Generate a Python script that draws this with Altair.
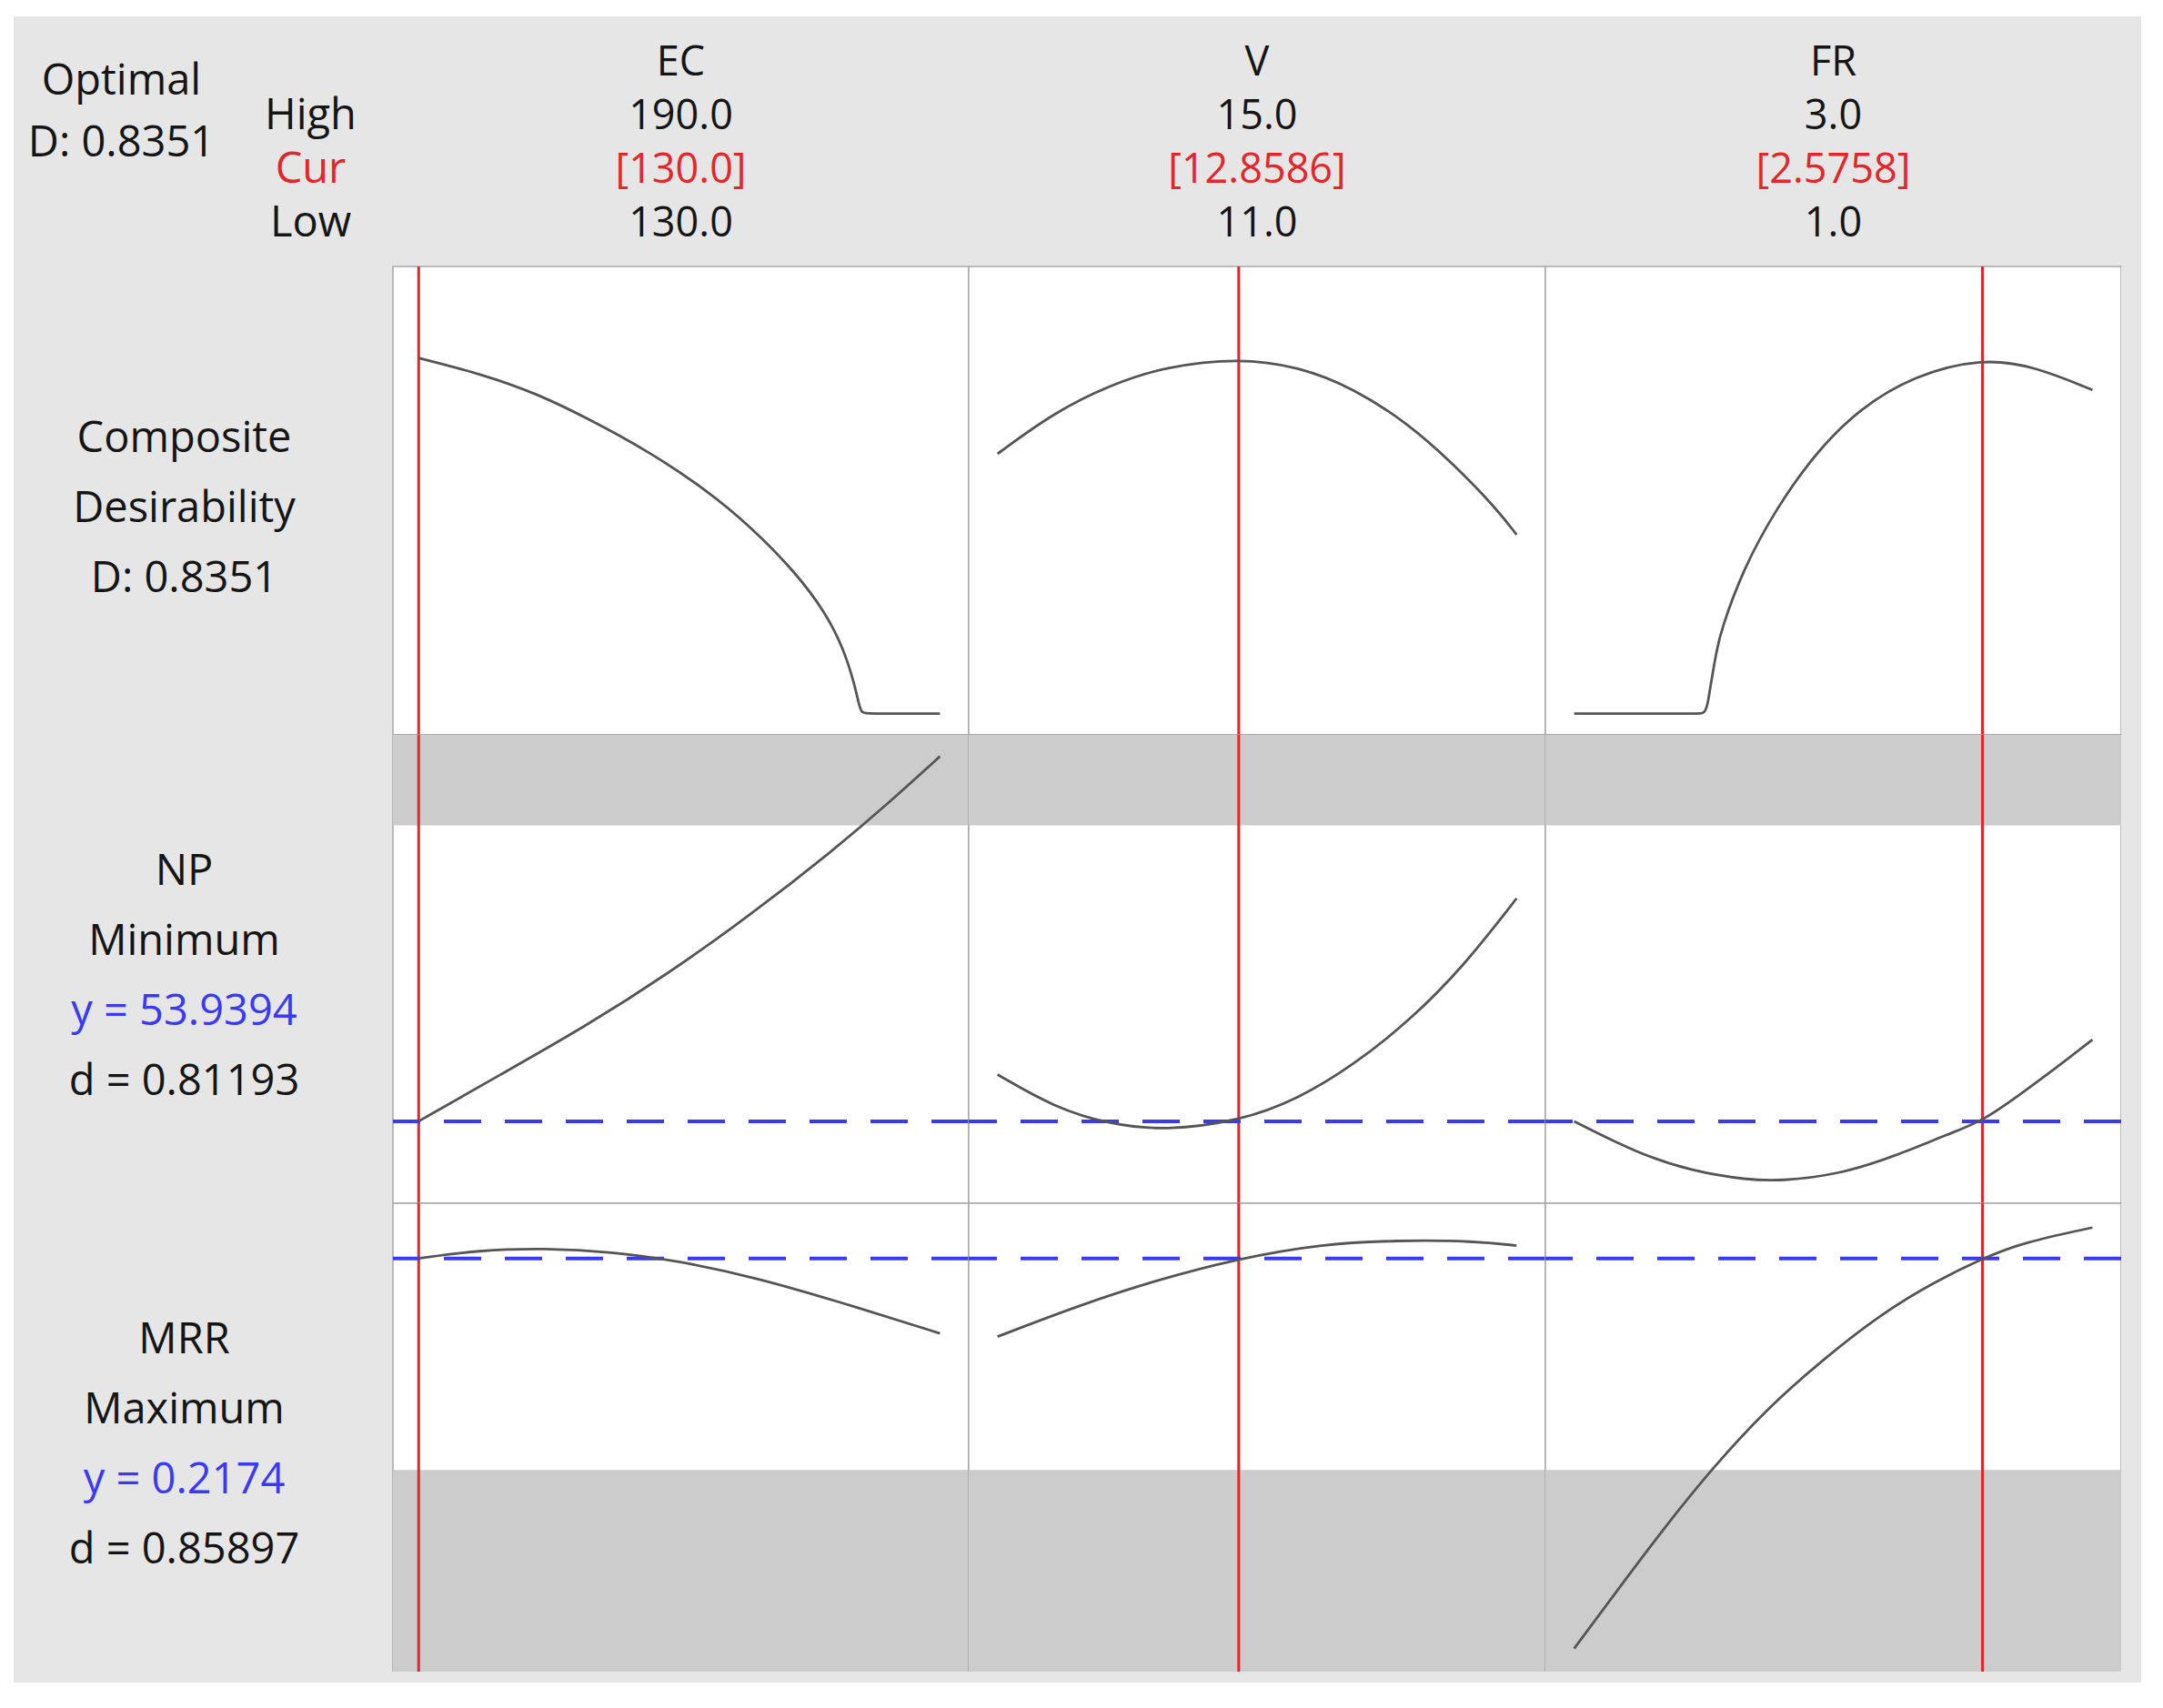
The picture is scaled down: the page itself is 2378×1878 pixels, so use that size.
import altair as alt
import pandas as pd

# ---------------- data ----------------
FACTORS = ["EC", "V", "FR"]
HIGH_TXT = ["190.0", "15.0", "3.0"]
CUR_TXT = ["[130.0]", "[12.8586]", "[2.5758]"]
LOW_TXT = ["130.0", "11.0", "1.0"]
CUR_V = [130.0, 12.8586, 2.5758]
X_DOMAINS = [[127.04, 193.31], [10.778, 15.222], [0.889, 3.111]]

OPTIMAL_LINES = ["Optimal", "D: 0.8351"]
SETTING_LINES = ["High", "Cur", "Low"]
SETTING_KIND = ["k", "r", "k"]

ROW_LABELS = [
    ["Composite", "Desirability", "D: 0.8351"],
    ["NP", "Minimum", "y = 53.9394", "d = 0.81193"],
    ["MRR", "Maximum", "y = 0.2174", "d = 0.85897"],
]
ROW_KIND = [["k", "k", "k"], ["k", "k", "b", "k"], ["k", "k", "b", "k"]]

NP_Y = 53.9394
MRR_Y = 0.2174
NP_UPPER = 75.0
MRR_LOWER = 0.12
ROW_DOMAINS = [[-0.05, 1.05], [48.11, 81.43], [0.0272, 0.2428]]

# composite desirability
EC_X_D = [130.0, 137.3, 143.7, 150.06, 156.43, 162.8, 168.3, 173.4, 176.8, 178.9, 180.2, 180.7, 181.0, 181.3, 185.0, 190.0]
EC_D = [0.835, 0.797, 0.751, 0.687, 0.616, 0.530, 0.438, 0.331, 0.238, 0.153, 0.067, 0.018, 0.003, 0.0, 0.0, 0.0]
V_X_D = [11.0, 11.44, 11.87, 12.29, 12.86, 13.32, 13.74, 14.17, 14.51, 14.85, 15.0]
V_D = [0.61, 0.708, 0.772, 0.815, 0.835, 0.815, 0.765, 0.680, 0.587, 0.480, 0.42]
FR_X_D = [1.0, 1.25, 1.48, 1.502, 1.515, 1.523, 1.55, 1.567, 1.651, 1.778, 1.927, 2.098, 2.311, 2.576, 2.78, 3.0]
FR_D = [0.0, 0.0, 0.0, 0.0, 0.02, 0.053, 0.15, 0.195, 0.338, 0.480, 0.609, 0.715, 0.794, 0.835, 0.815, 0.76]

# NP
EC_X_NP = [130.0, 139.44, 149.02, 158.6, 168.17, 177.75, 184.1, 190.0]
EC_NP = [53.94, 57.27, 60.62, 64.39, 68.6, 73.23, 76.58, 79.9]
V_X_NP = [11.0, 11.44, 11.87, 12.29, 12.86, 13.32, 13.74, 14.17, 14.59, 15.0]
V_NP = [57.27, 54.91, 53.71, 53.28, 53.94, 55.54, 57.92, 61.05, 64.93, 69.8]
FR_X_NP = [1.0, 1.243, 1.456, 1.669, 1.796, 2.023, 2.236, 2.448, 2.576, 2.731, 2.873, 3.0]
FR_NP = [53.94, 51.67, 50.38, 49.77, 49.68, 50.16, 51.44, 53.07, 53.94, 55.98, 57.92, 59.75]

# MRR
EC_X_MRR = [130.0, 136.9, 144.5, 152.2, 159.9, 168.8, 177.8, 190.0]
EC_MRR = [0.2174, 0.2212, 0.2221, 0.2205, 0.2163, 0.2086, 0.1982, 0.1829]
V_X_MRR = [11.0, 11.61, 12.21, 12.86, 13.49, 14.08, 14.68, 15.0]
V_MRR = [0.1814, 0.1954, 0.2072, 0.2174, 0.2240, 0.2258, 0.2254, 0.2233]
FR_X_MRR = [1.0, 1.172, 1.342, 1.527, 1.74, 1.966, 2.193, 2.391, 2.576, 2.731, 3.0]
FR_MRR = [0.0378, 0.0655, 0.0925, 0.1200, 0.1479, 0.1715, 0.1925, 0.2066, 0.2174, 0.2247, 0.2316]

CURVES = [
    [(EC_X_D, EC_D), (V_X_D, V_D), (FR_X_D, FR_D)],
    [(EC_X_NP, EC_NP), (V_X_NP, V_NP), (FR_X_NP, FR_NP)],
    [(EC_X_MRR, EC_MRR), (V_X_MRR, V_MRR), (FR_X_MRR, FR_MRR)],
]

# ---------------- style ----------------
FONT = "Open Sans"
FS = 47
FS_HEAD = 45
GRAY_BG = "#E6E6E6"
BAND = "#CCCCCC"
RED = "#E3262B"
BLUE = "#3A3AF2"
CURVE = "#555555"
BORDER = "#A8A8A8"

COL_W = [633, 634, 633]
LABEL_W = 417
HEADER_H = 275
ROW_H = 515
RIGHT_W = 22
BOTTOM_H = 12
LINE_STEP = 77.0
HEAD_STEP = 58.7

GRAY_VIEW = alt.ViewBackground(fill=GRAY_BG, stroke="transparent", strokeWidth=0)
PLOT_VIEW = alt.ViewBackground(fill="white", stroke=BORDER, strokeWidth=1.5)
TEXT_COLOR = alt.Scale(domain=["k", "r", "b"], range=["#151515", RED, BLUE])


def text_layer(lines, kinds, height, step, first=0, n_slots=None, dy=0, dx=0, fs=FS):
    n = len(lines) if n_slots is None else n_slots
    pad = (height / step - (n - 1)) / 2.0
    df = pd.DataFrame({"i": list(range(first, first + len(lines))), "t": lines, "k": kinds})
    return (
        alt.Chart(df)
        .mark_text(font=FONT, fontSize=fs, dy=dy, dx=dx)
        .encode(
            y=alt.Y("i:Q", axis=None,
                    scale=alt.Scale(domain=[-pad, n - 1 + pad], reverse=True, nice=False, zero=False)),
            text="t:N",
            color=alt.Color("k:N", scale=TEXT_COLOR, legend=None),
        )
    )


def spacer(w, h):
    return (
        alt.Chart(pd.DataFrame({"a": [0]}))
        .mark_point(opacity=0)
        .properties(width=w, height=h, view=GRAY_VIEW)
    )


def plot_panel(r, c):
    xs = alt.Scale(domain=X_DOMAINS[c], nice=False, zero=False)
    ys = alt.Scale(domain=ROW_DOMAINS[r], nice=False, zero=False)
    layers = []
    if r == 1:
        band = pd.DataFrame({"y": [NP_UPPER], "y2": [ROW_DOMAINS[1][1]]})
    elif r == 2:
        band = pd.DataFrame({"y": [ROW_DOMAINS[2][0]], "y2": [MRR_LOWER]})
    else:
        band = None
    if band is not None:
        layers.append(
            alt.Chart(band).mark_rect(color=BAND).encode(
                y=alt.Y("y:Q", scale=ys, axis=None), y2="y2:Q"
            )
        )
    layers.append(
        alt.Chart(pd.DataFrame({"x": [CUR_V[c]]}))
        .mark_rule(color=RED, strokeWidth=3)
        .encode(x=alt.X("x:Q", scale=xs, axis=None))
    )
    if r > 0:
        yv = NP_Y if r == 1 else MRR_Y
        layers.append(
            alt.Chart(pd.DataFrame({"y": [yv]}))
            .mark_rule(color=BLUE, strokeWidth=4, strokeDash=[41, 26])
            .encode(y=alt.Y("y:Q", scale=ys, axis=None))
        )
    xv, yv2 = CURVES[r][c]
    layers.append(
        alt.Chart(pd.DataFrame({"x": xv, "y": yv2}))
        .mark_line(color=CURVE, strokeWidth=2.8, interpolate="basis")
        .encode(
            x=alt.X("x:Q", scale=xs, axis=None),
            y=alt.Y("y:Q", scale=ys, axis=None),
        )
    )
    return alt.layer(*layers).properties(width=COL_W[c], height=ROW_H, view=PLOT_VIEW)


panels = []

# header row
head_left = (
    alt.layer(
        text_layer(OPTIMAL_LINES, ["k", "k"], HEADER_H, 68.0, dy=-32, dx=-90),
        text_layer(SETTING_LINES, SETTING_KIND, HEADER_H, HEAD_STEP, first=1, n_slots=4, dy=2, dx=118),
    )
    .resolve_scale(y="independent")
    .properties(width=LABEL_W, height=HEADER_H, view=GRAY_VIEW)
)
panels.append(head_left)
for c in range(3):
    panels.append(
        text_layer([FACTORS[c], HIGH_TXT[c], CUR_TXT[c], LOW_TXT[c]], ["k", "k", "r", "k"],
                   HEADER_H, HEAD_STEP, dy=2, fs=FS_HEAD)
        .properties(width=COL_W[c], height=HEADER_H, view=GRAY_VIEW)
    )
panels.append(spacer(RIGHT_W, HEADER_H))

for r in range(3):
    panels.append(
        text_layer(ROW_LABELS[r], ROW_KIND[r], ROW_H, LINE_STEP, dy=9, dx=-21)
        .properties(width=LABEL_W, height=ROW_H, view=GRAY_VIEW)
    )
    for c in range(3):
        panels.append(plot_panel(r, c))
    panels.append(spacer(RIGHT_W, ROW_H))

panels.append(spacer(LABEL_W, BOTTOM_H))
for c in range(3):
    panels.append(spacer(COL_W[c], BOTTOM_H))
panels.append(spacer(RIGHT_W, BOTTOM_H))

chart = (
    alt.concat(*panels, columns=5, spacing=0, bounds="flush", align="each")
    .properties(padding={"left": 7, "top": 10, "right": 0, "bottom": 0})
    .configure(background="white")
    .configure_view(strokeWidth=0)
    .configure_concat(spacing=0)
)

chart.save("out.html", embed_options={"renderer": "svg", "actions": False})
